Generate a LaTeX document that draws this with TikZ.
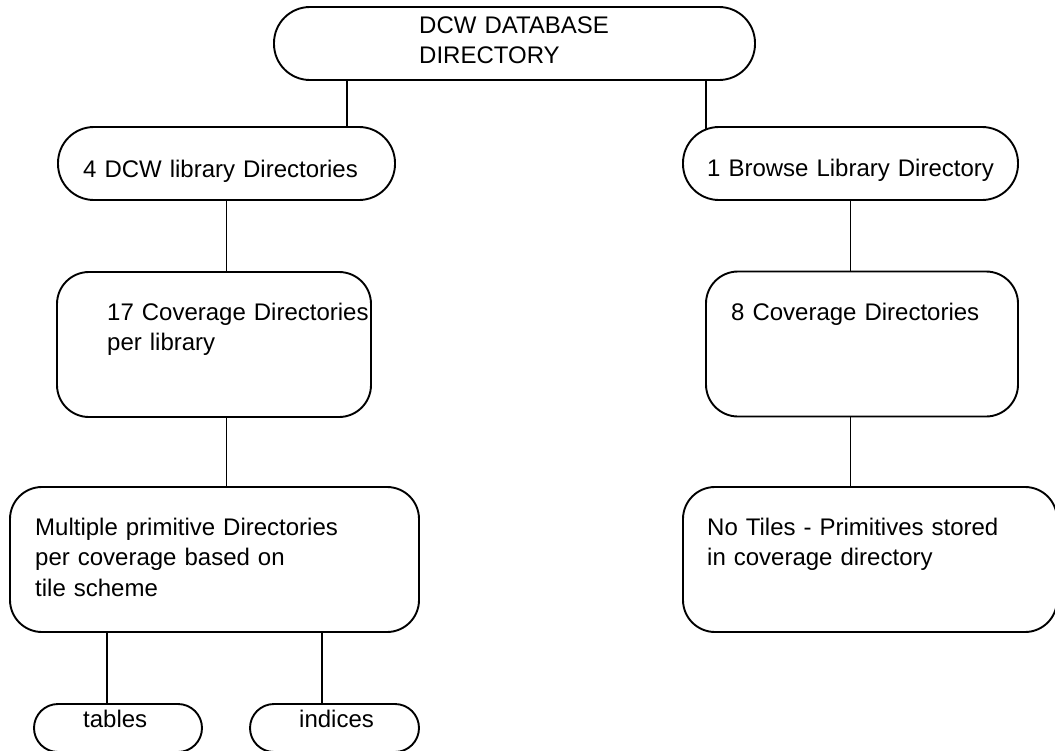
\documentclass[tikz,border=0pt]{standalone}
\usepackage{fontspec}
\setmainfont{Liberation Sans}
\begin{document}
\begin{tikzpicture}[x=1pt,y=-1pt,
  box/.style={draw,line width=1.9pt,rectangle,inner sep=0pt,minimum width=#1},
  tall/.style={minimum height=145pt,rounded corners=32pt},
  pill/.style={minimum height=73pt,rounded corners=36pt},
  small/.style={minimum height=48pt,rounded corners=24pt},
  lbl/.style={anchor=base west,inner sep=0pt,font=\fontsize{24}{30.5}\selectfont,align=left,text width=420pt},
  conn/.style={line width=1.9pt}]
\useasboundingbox (0,0) rectangle (1055,750);
% boxes
\node[box=481pt,pill] (top) at (514.5,43.5) {};
\node[box=337pt,pill] (lib) at (226.5,163.5) {};
\node[box=335pt,pill] (browse) at (850.5,163.5) {};
\node[box=314pt,tall] (cov17) at (214,344.5) {};
\node[box=312pt,tall] (cov8) at (862,344) {};
\node[box=409pt,tall] (mult) at (214.5,559.5) {};
\node[box=374pt,tall] (notiles) at (870,559.5) {};
\node[box=168pt,small] (tables) at (118,728) {};
\node[box=169pt,small] (indices) at (334.5,728) {};
% labels
\node[lbl] (ttop) at (419,33) {DCW DATABASE\\DIRECTORY};
\node[lbl] (tlib) at (83,177) {4 DCW library Directories};
\node[lbl] (tbrowse) at (707,176) {1 Browse Library Directory};
\node[lbl] (tcov17) at (107,320) {17 Coverage Directories\\per library};
\node[lbl] (tcov8) at (731,320) {8 Coverage Directories};
\node[lbl] (tmult) at (35,535) {Multiple primitive Directories\\per coverage based on\\tile scheme};
\node[lbl] (tnotiles) at (707,535) {No Tiles - Primitives stored\\in coverage directory};
\node[lbl] (ttables) at (83,727) {tables};
\node[lbl] (tindices) at (299,727) {indices};
% connectors
\coordinate (xa) at (347,0);
\coordinate (xb) at (706,0);
\coordinate (xc) at (107,0);
\coordinate (xd) at (322,0);
\draw[conn] (top.south -| xa) -- (lib.north -| xa);
\draw[conn,shorten >=-2.5pt] (top.south -| xb) -- (browse.north -| xb);
\draw[conn] (lib.south) -- (lib.south |- cov17.north);
\draw[conn] (browse.south) -- (browse.south |- cov8.north);
\draw[conn] (cov17.south -| lib.south) -- (mult.north -| lib.south);
\draw[conn] (cov8.south -| browse.south) -- (notiles.north -| browse.south);
\draw[conn] (mult.south -| xc) -- (tables.north -| xc);
\draw[conn] (mult.south -| xd) -- (indices.north -| xd);
\end{tikzpicture}
\end{document}
